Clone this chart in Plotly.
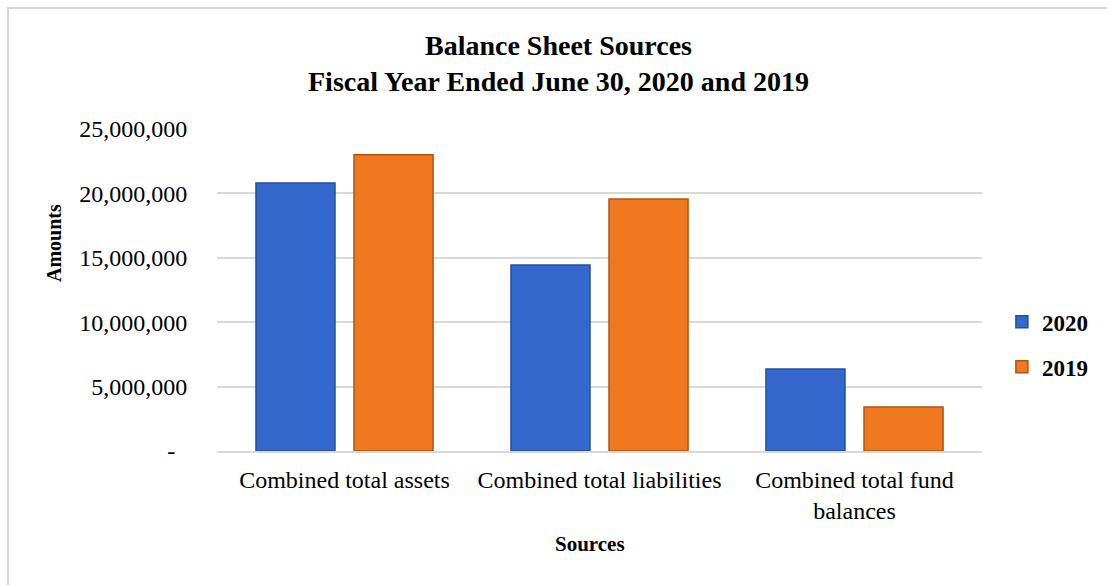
import plotly.graph_objects as go

categories = ["Combined total assets", "Combined total liabilities", "Combined total fund<br>balances"]
series_names = ["2020", "2019"]
values_2020 = [20800000, 14440000, 6370000]
values_2019 = [23000000, 19570000, 3420000]
tick_vals = [0, 5000000, 10000000, 15000000, 20000000, 25000000]
tick_text = ["-\u00a0\u00a0", "5,000,000", "10,000,000", "15,000,000", "20,000,000", "25,000,000"]
title_lines = ["Balance Sheet Sources", "Fiscal Year Ended June 30, 2020 and 2019"]
x_title = "Sources"
y_title = "Amounts"

FONT = "Liberation Serif, Times New Roman, serif"

# plot-area geometry in pixels (for placing free text)
L, R, T, B = 217, 982, 129, 451
def px_x(x):
    return (x - L) / (R - L)
def px_y(y):
    return (B - y) / (B - T)

fig = go.Figure()
fig.add_trace(go.Bar(
    x=categories, y=values_2020, name=series_names[0],
    marker=dict(color="#3468cc", line=dict(color="#24509e", width=1.5)),
    legendgroup="a",
))
fig.add_trace(go.Bar(
    x=categories, y=values_2019, name=series_names[1],
    marker=dict(color="#f07820", line=dict(color="#b05510", width=1.5)),
    legendgroup="b",
))

fig.update_layout(
    width=1107, height=585,
    margin=dict(l=L, r=1107 - R, t=T, b=585 - B, autoexpand=False),
    paper_bgcolor="white", plot_bgcolor="white",
    font=dict(family=FONT, size=24, color="black"),
    barmode="group", bargap=0.231, bargroupgap=0.194,
    showlegend=True,
    legend=dict(
        x=1.026, xanchor="left", y=0.331, yanchor="middle",
        font=dict(family=FONT, size=23, color="black", weight="bold"),
        tracegroupgap=12, traceorder="grouped",
        itemwidth=30, bgcolor="rgba(0,0,0,0)",
    ),
    xaxis=dict(
        showgrid=False, showline=True, linecolor="#d9d9d9", linewidth=2,
        tickfont=dict(family=FONT, size=24),
        ticks="outside", ticklen=6, tickcolor="rgba(0,0,0,0)",
        automargin=False,
    ),
    yaxis=dict(
        range=[0, 25000000], tickvals=tick_vals, ticktext=tick_text,
        showgrid=True, gridcolor="#d9d9d9", gridwidth=1.5,
        zeroline=False, showline=False,
        ticks="outside", ticklen=24, tickcolor="rgba(0,0,0,0)",
        tickfont=dict(family=FONT, size=24),
        automargin=False,
    ),
    annotations=[
        dict(
            text="<b>" + "<br>".join(title_lines) + "</b>",
            xref="paper", yref="paper", x=px_x(558), y=px_y(64),
            xanchor="center", yanchor="middle", showarrow=False,
            font=dict(family=FONT, size=28, color="black"),
        ),
        dict(
            text="<b>" + y_title + "</b>",
            xref="paper", yref="paper", x=px_x(54), y=px_y(243),
            xanchor="center", yanchor="middle", showarrow=False, textangle=-90,
            font=dict(family=FONT, size=20, color="black"),
        ),
        dict(
            text="<b>" + x_title + "</b>",
            xref="paper", yref="paper", x=px_x(590), y=px_y(544),
            xanchor="center", yanchor="middle", showarrow=False,
            font=dict(family=FONT, size=21, color="black"),
        ),
    ],
    shapes=[dict(
        type="rect", xref="paper", yref="paper",
        x0=px_x(8), x1=1.3, y0=-0.6, y1=px_y(8),
        line=dict(color="#d6d6d6", width=2), fillcolor="rgba(0,0,0,0)", layer="below",
    )],
)

fig.write_html("out.html")
